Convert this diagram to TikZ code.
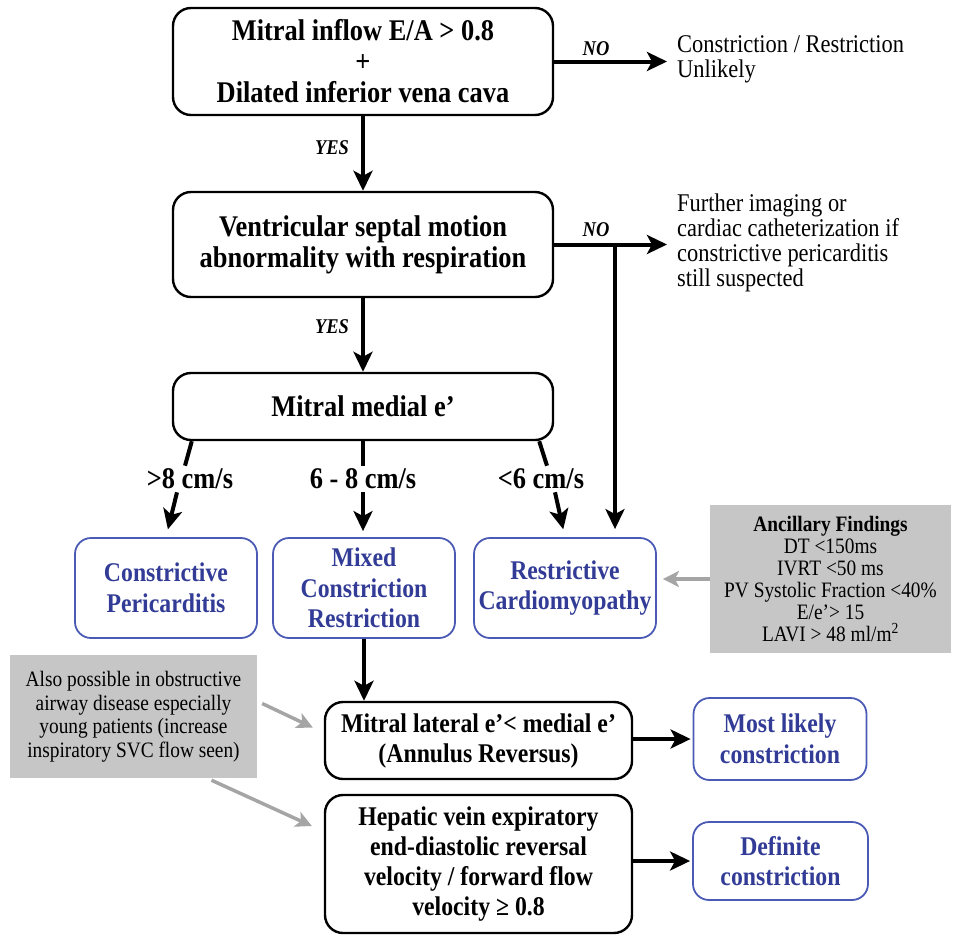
\documentclass[tikz,border=0pt]{standalone}
\usepackage{fontspec}
\setmainfont{Liberation Serif}[FakeStretch=0.88]
\usetikzlibrary{arrows.meta,positioning}

\definecolor{boxblue}{RGB}{75,90,180}
\definecolor{textblue}{RGB}{50,60,150}
\definecolor{notegray}{RGB}{198,198,198}
\definecolor{arrowgray}{RGB}{165,165,165}

\begin{document}
\begin{tikzpicture}[x=1pt,y=-1pt,
  every node/.style={align=center,inner sep=0pt},
  decision/.style={draw=black,line width=2.4pt,rounded corners=18pt,
    font=\fontsize{30}{31}\selectfont\bfseries},
  check/.style={decision,font=\fontsize{27}{30}\selectfont\bfseries},
  outcome/.style={draw=boxblue,line width=1.8pt,rounded corners=16pt,
    text=textblue,font=\fontsize{27}{30.5}\selectfont\bfseries},
  note/.style={fill=notegray,font=\fontsize{22}{22}\selectfont},
  remark/.style={anchor=west,align=left,font=\fontsize{25.5}{25}\selectfont},
  answer/.style={font=\fontsize{21}{22}\selectfont\bfseries\itshape},
  speed/.style={inner sep=3pt,font=\fontsize{30}{30}\selectfont\bfseries},
  arrow/.style={line width=4pt,-{Stealth[length=20pt,width=19pt,inset=5pt]}},
  stub/.style={line width=4pt},
  grayarrow/.style={draw=arrowgray,line width=3.5pt,
    -{Stealth[length=16pt,width=16pt,inset=4pt]}}]

  \useasboundingbox (0,0) rectangle (953,935);

  % main questions
  \node[decision,minimum width=380pt,minimum height=107pt] (inflow) at (363,61.5)
    {Mitral inflow E/A > 0.8\\+\\Dilated inferior vena cava};
  \node[decision,minimum width=380pt,minimum height=105pt] (septal) at (363,244.5)
    {Ventricular septal motion\\abnormality with respiration};
  \node[decision,minimum width=380pt,minimum height=67pt] (medial) at (363,406.5)
    {Mitral medial e’};
  \node[check,minimum width=307pt,minimum height=77pt] (lateral) at (478.5,740.5)
    {Mitral lateral e’< medial e’\\(Annulus Reversus)};
  \node[check,minimum width=307pt,minimum height=138pt] (hepatic) at (478.5,864)
    {Hepatic vein expiratory\\end-diastolic reversal\\velocity / forward flow\\velocity ≥ 0.8};

  % outcomes
  \node[outcome,minimum width=182pt,minimum height=100pt] (constrictive) at (166,588)
    {Constrictive\\Pericarditis};
  \node[outcome,minimum width=182pt,minimum height=100pt] (mixed) at (364,588)
    {Mixed\\Constriction\\Restriction};
  \node[outcome,minimum width=182pt,minimum height=100pt] (restrictive) at (565,588)
    {Restrictive\\Cardiomyopathy};
  \node[outcome,minimum width=173pt,minimum height=82pt] (likely) at (780,739)
    {Most likely\\constriction};
  \node[outcome,minimum width=175pt,minimum height=78pt] (definite) at (780.5,861)
    {Definite\\constriction};

  % side texts
  \node[remark] (unlikely) at (677,59.5) {Constriction / Restriction\\Unlikely};
  \node[remark] (further) at (677,242.5) {Further imaging or\\cardiac catheterization if\\
    constrictive pericarditis\\still suspected};
  \node[note,minimum width=241pt,minimum height=148pt] (ancillary) at (830.5,579)
    {\textbf{Ancillary Findings}\\DT <150ms\\IVRT <50 ms\\PV Systolic Fraction <40\%\\
    E/e’> 15\\LAVI > 48 ml/m\textsuperscript{2}};
  \node[note,minimum width=247pt,minimum height=123pt,font=\fontsize{22}{23.5}\selectfont]
    (airway) at (133.5,716.5)
    {Also possible in obstructive\\airway disease especially\\young patients (increase\\
    inspiratory SVC flow seen)};

  % labels
  \node[answer] (yes1) at (332,148) {YES};
  \node[answer] (yes2) at (332,327) {YES};
  \node[answer] (no1) at (596,49) {NO};
  \node[answer] (no2) at (596,230) {NO};
  \node[speed] (gt8) at (190,479) {>8 cm/s};
  \node[speed] (mid) at (363,479) {6 - 8 cm/s};
  \node[speed] (lt6) at (541,479) {<6 cm/s};

  % connectors
  \draw[arrow] (inflow) -- (septal);
  \draw[arrow,shorten >=10pt] (inflow.east) -- (inflow.east -| unlikely.west);
  \draw[arrow] (septal) -- (medial);
  \draw[arrow,shorten >=10pt] (septal.east) -- (septal.east -| further.west);
  \coordinate (split) at (615,244.5);
  \draw[arrow,shorten >=8pt] (split) -- (split |- restrictive.north);

  \draw[stub] ([xshift=20pt]medial.south west) -- ([xshift=-5pt]gt8.north);
  \draw[arrow,shorten >=8pt] ([xshift=-13pt]gt8.south) -- (constrictive.north);
  \draw[stub] (medial.south) -- (mid.north);
  \draw[arrow,shorten >=6pt] (mid.south) -- (mid.south |- mixed.north);
  \draw[stub] ([xshift=-15pt]medial.south east) -- ([xshift=6pt]lt6.north);
  \draw[arrow,shorten >=8pt] ([xshift=14pt]lt6.south) -- (restrictive.north);

  \draw[grayarrow,shorten >=6pt] (ancillary.west) -- (ancillary.west -| restrictive.east);
  \draw[arrow] (mixed.south) -- (mixed.south |- lateral.north);
  \draw[arrow,shorten >=2pt] (lateral.east |- likely.west) -- (likely.west);
  \draw[arrow,shorten >=2pt] (hepatic.east |- definite.west) -- (definite.west);
  \draw[grayarrow] ([shift={(5,-13)}]airway.east) -- ([shift={(-11,-13)}]lateral.west);
  \draw[grayarrow] ([shift={(78,2)}]airway.south) -- ([shift={(-12,-38)}]hepatic.west);
\end{tikzpicture}
\end{document}
